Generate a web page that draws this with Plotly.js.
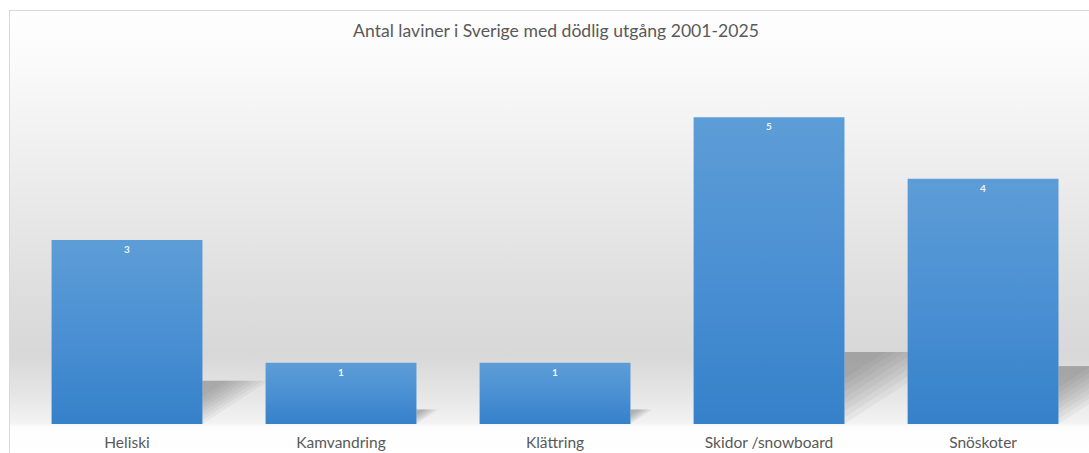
<!DOCTYPE html>
<html>
<head>
<meta charset="utf-8">
<script src="https://cdn.plot.ly/plotly-3.0.1.min.js"></script>
<style>
  html, body { margin:0; padding:0; background:#ffffff; }
  #wrap { position:relative; width:1089px; height:453px; overflow:hidden; }
  #bg { position:absolute; left:9px; top:10px; width:1080px; height:443px;
        border-left:1px solid #d9d9d9; border-top:1px solid #d9d9d9;
        background:linear-gradient(to bottom, #fefefe 0px, #fbfbfb 45px, #eeeeee 150px, #dcdcdc 300px, #d8d8d8 345px, #e6e6e6 385px, #f3f3f3 412px, #fdfdfd 416px, #ffffff 443px); }
  #chart { position:absolute; left:0; top:0; width:1089px; height:453px; }
</style>
</head>
<body>
<div id="wrap"><div id="bg"></div><div id="chart"></div></div>
<script>
const categories = ["Heliski", "Kamvandring", "Klättring", "Skidor /snowboard", "Snöskoter"];
const values = [3, 1, 1, 5, 4];
const chartTitle = "Antal laviner i Sverige med dödlig utgång 2001-2025";

const bargap = 0.295;
const halfW = (1 - bargap) / 2;

// perspective shadows behind each bar (soft triangle to the right of the bar), derived from data
const shapes = [];
values.forEach((v, i) => {
  const xr = i + halfW;
  const dx = 0.103 * v;
  const dy = 0.235 * v;
  const n = 8;
  for (let k = 0; k < n; k++) {
    const f = 1 - k * 0.09;
    const ax = xr, ay = dy - dy * f;
    const bx = xr + dx * f, by = dy;
    shapes.push({
      type: 'path', xref: 'x', yref: 'y', layer: 'below',
      path: `M ${ax} ${ay} L ${bx} ${by} L ${xr} ${dy} Z`,
      fillcolor: 'rgba(80,80,80,0.06)', line: { width: 0 }
    });
  }
});

const fontFam = 'Lato, "Open Sans", sans-serif';

const trace = {
  type: 'bar',
  x: categories,
  y: values,
  text: values.map(String),
  textposition: 'inside',
  insidetextanchor: 'end',
  textfont: { family: fontFam, size: 10, color: '#eef5fc', weight: 'bold' },
  marker: { color: '#4a8fd2', line: { width: 0 } },
  hoverinfo: 'none',
  cliponaxis: false
};

const layout = {
  width: 1089, height: 453,
  margin: { l: 20, r: 0, t: 56, b: 29 },
  paper_bgcolor: 'rgba(0,0,0,0)',
  plot_bgcolor: 'rgba(0,0,0,0)',
  showlegend: false,
  bargap: bargap,
  title: {
    text: chartTitle,
    font: { family: fontFam, size: 17.6, color: '#595959' },
    x: 556 / 1089, xanchor: 'center', xref: 'container',
    y: 1 - 31 / 453, yanchor: 'middle', yref: 'container'
  },
  xaxis: {
    type: 'category',
    range: [-0.5, 4.495],
    showgrid: false, zeroline: false, showline: false, ticks: '',
    ticklabelstandoff: 7,
    tickfont: { family: fontFam, size: 15.5, color: '#595959' },
    fixedrange: true
  },
  yaxis: {
    range: [0, 6],
    visible: false, showgrid: false, zeroline: false, fixedrange: true
  },
  shapes: shapes
};

Plotly.newPlot('chart', [trace], layout, { staticPlot: true, displayModeBar: false }).then(gd => {
  const svg = gd.querySelector('svg.main-svg');
  const ns = 'http://www.w3.org/2000/svg';
  let defs = svg.querySelector('defs');
  if (!defs) { defs = document.createElementNS(ns, 'defs'); svg.insertBefore(defs, svg.firstChild); }
  const lg = document.createElementNS(ns, 'linearGradient');
  lg.setAttribute('id', 'barGrad');
  lg.setAttribute('x1', '0'); lg.setAttribute('y1', '0');
  lg.setAttribute('x2', '0'); lg.setAttribute('y2', '1');
  [['0', '#5d9dd7'], ['0.5', '#4b90d3'], ['1', '#3581ca']].forEach(([o, c]) => {
    const s = document.createElementNS(ns, 'stop');
    s.setAttribute('offset', o); s.setAttribute('stop-color', c);
    lg.appendChild(s);
  });
  defs.appendChild(lg);
  gd.querySelectorAll('g.trace.bars g.point path').forEach(p => {
    p.style.fill = 'url(#barGrad)';
  });
});
</script>
</body>
</html>
